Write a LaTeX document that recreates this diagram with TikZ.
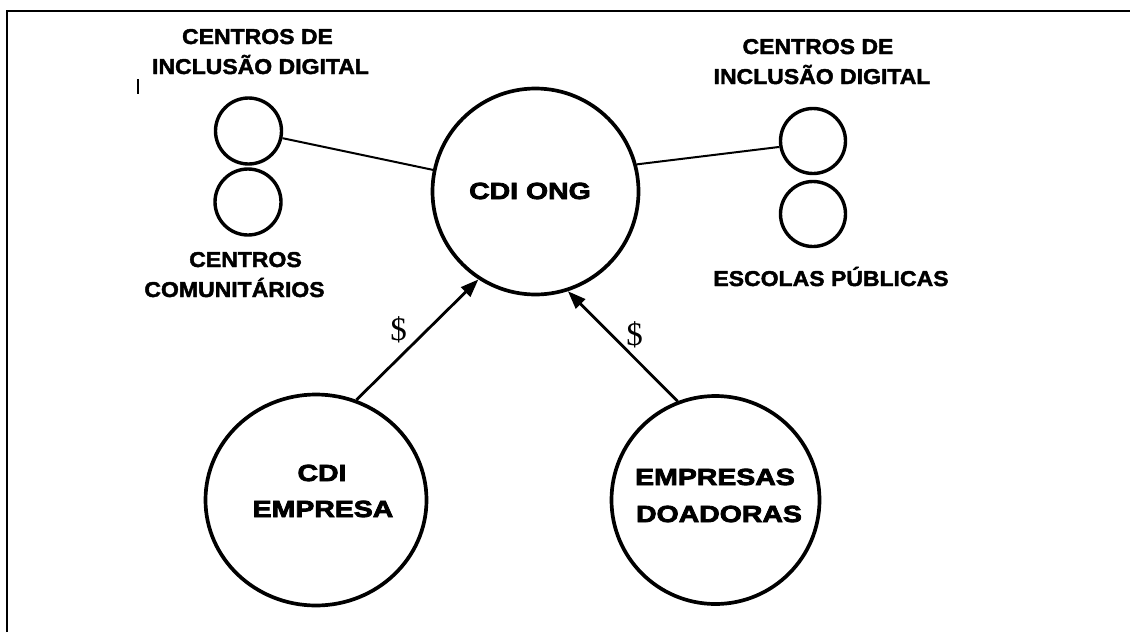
\documentclass[tikz,border=0pt]{standalone}
\usepackage{fontspec}
\setmainfont{Liberation Sans}
\newfontfamily\circfont[FakeStretch=1.22,FakeBold=3.5]{Liberation Sans Bold}
\newfontfamily\labfont[FakeStretch=1.07,FakeBold=2]{Liberation Sans Bold}
\newfontfamily\dollarfont{Liberation Serif}
\usetikzlibrary{arrows.meta,shapes.geometric}
\begin{document}
\begin{tikzpicture}[x=1pt,y=-1pt,
  big/.style={circle,draw,line width=3.7pt,inner sep=0pt,minimum size=206pt},
  small/.style={circle,draw,line width=3.4pt,inner sep=0pt,minimum size=66pt},
  lab/.style={anchor=base,inner sep=0pt,font=\labfont\fontsize{21.5}{30}\selectfont},
  ctext/.style={anchor=base,inner sep=0pt,font=\circfont\fontsize{23.3}{36}\selectfont},
  money/.style={inner sep=0pt,font=\dollarfont\fontsize{33}{36}\selectfont},
  link/.style={line width=2pt},
  flow/.style={line width=2.8pt,-{Triangle[length=18pt,width=13pt]}}]
\useasboundingbox (0,0) rectangle (1130,632);
% frame
\coordinate (fbl) at (7,632);
\coordinate (ftl) at (7,11);
\coordinate (ftr) at (1130,11);
\draw[line width=2.2pt] (fbl) -- (ftl) -- (ftr);
% stray mark
\coordinate (m1) at (138,79);
\coordinate (m2) at (138,94);
\draw[line width=1.6pt] (m1) -- (m2);
% circles
\node[big] (ong) at (535.5,191.5) {};
\node[small] (lt1) at (248.5,131) {};
\node[small] (lt2) at (248,202) {};
\node[small,minimum size=65pt] (rt1) at (813,141) {};
\node[small,minimum size=65pt] (rt2) at (813,214) {};
\node[ellipse,draw,line width=3.7pt,inner sep=0pt,minimum width=221pt,minimum height=211pt] (emp) at (316,500) {};
\node[big,minimum size=208pt] (doa) at (715.5,500) {};
% circle texts
\node[ctext] (tong) at (530,199) {CDI ONG};
\node[ctext] (tcdi) at (322,481) {CDI};
\node[ctext] (temp) at (323,517) {EMPRESA};
\node[ctext] (tem2) at (715,485) {EMPRESAS};
\node[ctext] (tdoa) at (719,522) {DOADORAS};
% labels
\node[lab] (l1) at (257.5,44) {CENTROS DE};
\node[lab] (l2) at (260.5,74) {INCLUSÃO DIGITAL};
\node[lab] (l3) at (245.5,267) {CENTROS};
\node[lab] (l4) at (234.5,297) {COMUNITÁRIOS};
\node[lab] (r1) at (818,54) {CENTROS DE};
\node[lab] (r2) at (822,84) {INCLUSÃO DIGITAL};
\node[lab] (r3) at (831,286) {ESCOLAS PÚBLICAS};
% connectors
\draw[link] (lt1) -- (ong);
\draw[link] (ong.15) -- (rt1.190);
\draw[flow] (emp.68) -- (ong.-123);
\draw[flow] (doa.111) -- (ong.-72);
\node[money] (d1) at (398.5,330) {\$};
\node[money] (d2) at (634.5,335) {\$};
\end{tikzpicture}
\end{document}
